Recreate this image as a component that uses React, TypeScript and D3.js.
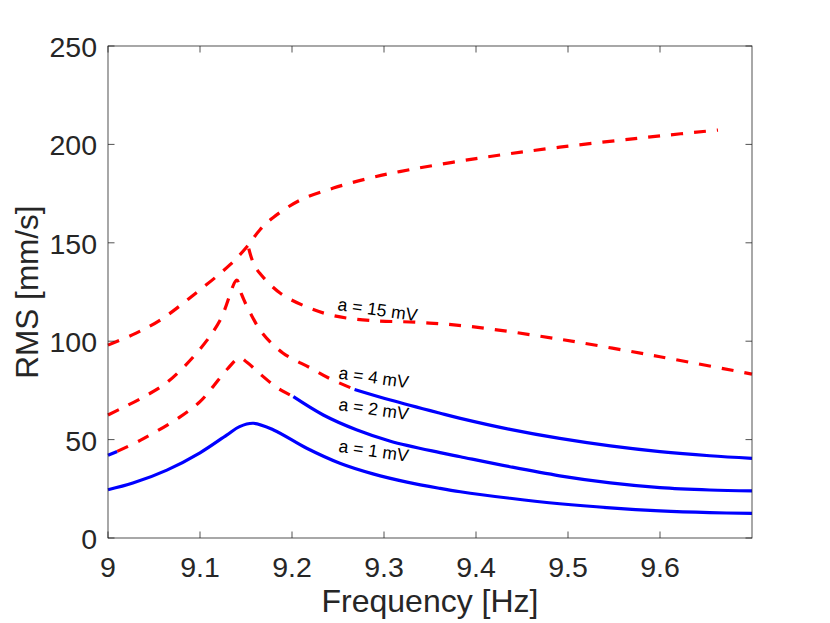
import React, { useEffect, useRef } from 'react';
import * as d3 from 'd3';

// frequency [Hz] / RMS [mm/s], one array pair per branch

// a = 1 mV (stable everywhere)
const a1Freq = [9.0, 9.027, 9.064, 9.1, 9.129, 9.143, 9.158, 9.18, 9.216, 9.252, 9.288, 9.325, 9.361, 9.383, 9.437, 9.491, 9.546, 9.6, 9.654, 9.7];
const a1Rms = [24.5, 27.9, 34.5, 43.3, 52.3, 56.6, 58.3, 54.9, 45.6, 38, 32.6, 28.4, 25.2, 23.5, 20.2, 17.4, 15.3, 13.8, 12.9, 12.5];

// a = 2 mV
const a2StartFreq = [9.0, 9.01];
const a2StartRms = [42, 44];
const a2UnstableFreq = [9.01, 9.035, 9.078, 9.1, 9.114, 9.13, 9.143, 9.151, 9.165, 9.18, 9.19, 9.2015];
const a2UnstableRms = [44, 49.6, 61.4, 69.3, 76.8, 86, 91.5, 89.3, 83.5, 77.7, 74.6, 71.8];
const a2StableFreq = [9.2015, 9.234, 9.27, 9.307, 9.361, 9.383, 9.437, 9.491, 9.546, 9.6, 9.654, 9.7];
const a2StableRms = [71.8, 62.5, 55, 49.2, 43.4, 41.3, 36.2, 31.6, 28, 25.6, 24.4, 23.9];

// a = 4 mV
const a4UnstableFreq = [9.0, 9.013, 9.038, 9.064, 9.1, 9.122, 9.14, 9.145, 9.155, 9.168, 9.19, 9.22, 9.241, 9.268];
const a4UnstableRms = [62.5, 65.5, 71.5, 79, 96, 110.8, 131, 124, 114, 104, 94, 86.4, 81, 75.5];
const a4StableFreq = [9.268, 9.307, 9.361, 9.383, 9.437, 9.491, 9.546, 9.6, 9.654, 9.7];
const a4StableRms = [75.5, 70.1, 63.4, 60.8, 55.2, 50.6, 46.8, 43.9, 41.8, 40.5];

// a = 15 mV, rising branch continuing into the upper branch
const a15UpperFreq = [9.0, 9.03, 9.057, 9.093, 9.133, 9.151, 9.165, 9.18, 9.209, 9.245, 9.281, 9.317, 9.4, 9.491, 9.6, 9.663];
const a15UpperRms = [98, 104, 110.8, 123.5, 139, 148, 156.5, 163, 171.7, 177.8, 182.5, 186.2, 192.8, 198.6, 204.3, 207.3];
// a = 15 mV, lower branch
const a15LowerFreq = [9.153, 9.158, 9.165, 9.187, 9.216, 9.245, 9.285, 9.336, 9.393, 9.491, 9.6, 9.7];
const a15LowerRms = [147, 139.7, 134.5, 124.5, 117.4, 113, 110.5, 109.6, 107.5, 101, 92.1, 83.3];

const labelText = ['a = 15 mV', 'a = 4 mV', 'a = 2 mV', 'a = 1 mV'];
const labelFreq = [9.249, 9.25, 9.25, 9.25];
const labelRms = [115.9, 81.1, 65, 43.8];

const xTicks = [9, 9.1, 9.2, 9.3, 9.4, 9.5, 9.6];
const yTicks = [0, 50, 100, 150, 200, 250];

const FONT = '"Liberation Sans", Arial, Helvetica, sans-serif';
const INK = '#262626';

const RmsChart: React.FC = () => {
  const ref = useRef<SVGSVGElement>(null);

  useEffect(() => {
    if (!ref.current) return;
    const svg = d3.select(ref.current);
    svg.selectAll('*').remove();

    const left = 108, right = 752, top = 46, bottom = 538;

    const x = d3.scaleLinear().domain([9, 9.7]).range([left, right]);
    const y = d3.scaleLinear().domain([0, 250]).range([bottom, top]);

    const line = d3.line<[number, number]>()
      .x(d => x(d[0]))
      .y(d => y(d[1]))
      .curve(d3.curveCatmullRom.alpha(0.5));

    const zip = (f: number[], v: number[]) => f.map((fi, i) => [fi, v[i]] as [number, number]);

    const stable = [
      zip(a1Freq, a1Rms),
      zip(a2StartFreq, a2StartRms),
      zip(a2StableFreq, a2StableRms),
      zip(a4StableFreq, a4StableRms),
    ];
    const unstable = [
      zip(a2UnstableFreq, a2UnstableRms),
      zip(a4UnstableFreq, a4UnstableRms),
      zip(a15UpperFreq, a15UpperRms),
      zip(a15LowerFreq, a15LowerRms),
    ];

    const plot = svg.append('g');

    plot.selectAll('.stable')
      .data(stable)
      .enter()
      .append('path')
      .attr('class', 'stable')
      .attr('fill', 'none')
      .attr('stroke', '#0000ff')
      .attr('stroke-width', 3.2)
      .attr('d', d => line(d));

    plot.selectAll('.unstable')
      .data(unstable)
      .enter()
      .append('path')
      .attr('class', 'unstable')
      .attr('fill', 'none')
      .attr('stroke', '#ff0000')
      .attr('stroke-width', 3.2)
      .attr('stroke-dasharray', '12,11')
      .attr('d', d => line(d));

    // amplitude labels
    labelText.forEach((t, i) => {
      const lx = x(labelFreq[i]);
      const ly = y(labelRms[i]);
      svg.append('text')
        .attr('transform', `translate(${lx},${ly}) rotate(8)`)
        .attr('font-family', FONT)
        .attr('font-size', '17.5px')
        .attr('fill', '#000')
        .text(t);
    });

    // box with inward ticks on all sides
    const tl = 6.5;
    svg.append('rect')
      .attr('x', left)
      .attr('y', top)
      .attr('width', right - left)
      .attr('height', bottom - top)
      .attr('fill', 'none')
      .attr('stroke', INK)
      .attr('stroke-width', 0.8);

    const ticks = svg.append('g').attr('stroke', INK).attr('stroke-width', 0.8);
    xTicks.forEach(t => {
      ticks.append('line').attr('x1', x(t)).attr('x2', x(t)).attr('y1', bottom).attr('y2', bottom - tl);
      ticks.append('line').attr('x1', x(t)).attr('x2', x(t)).attr('y1', top).attr('y2', top + tl);
    });
    yTicks.forEach(t => {
      ticks.append('line').attr('x1', left).attr('x2', left + tl).attr('y1', y(t)).attr('y2', y(t));
      ticks.append('line').attr('x1', right).attr('x2', right - tl).attr('y1', y(t)).attr('y2', y(t));
    });

    svg.selectAll('.xlab')
      .data(xTicks)
      .enter()
      .append('text')
      .attr('class', 'xlab')
      .attr('x', d => x(d))
      .attr('y', bottom + 39)
      .attr('text-anchor', 'middle')
      .attr('font-family', FONT)
      .attr('font-size', '28.5px')
      .attr('fill', INK)
      .text(d => d3.format('')(d));

    svg.selectAll('.ylab')
      .data(yTicks)
      .enter()
      .append('text')
      .attr('class', 'ylab')
      .attr('x', left - 11)
      .attr('y', d => y(d) + 11)
      .attr('text-anchor', 'end')
      .attr('font-family', FONT)
      .attr('font-size', '28.5px')
      .attr('fill', INK)
      .text(d => d);

    svg.append('text')
      .attr('x', (left + right) / 2)
      .attr('y', 612)
      .attr('text-anchor', 'middle')
      .attr('font-family', FONT)
      .attr('font-size', '32px')
      .attr('fill', INK)
      .text('Frequency [Hz]');

    svg.append('text')
      .attr('transform', `translate(38,${(top + bottom) / 2}) rotate(-90)`)
      .attr('text-anchor', 'middle')
      .attr('font-family', FONT)
      .attr('font-size', '31.5px')
      .attr('fill', INK)
      .text('RMS [mm/s]');
  }, []);

  return (
    <svg
      ref={ref}
      width={830}
      height={623}
      style={{ position: 'absolute', left: 0, top: 0, background: '#fff' }}
    />
  );
};

export default function App() {
  return <RmsChart />;
}
